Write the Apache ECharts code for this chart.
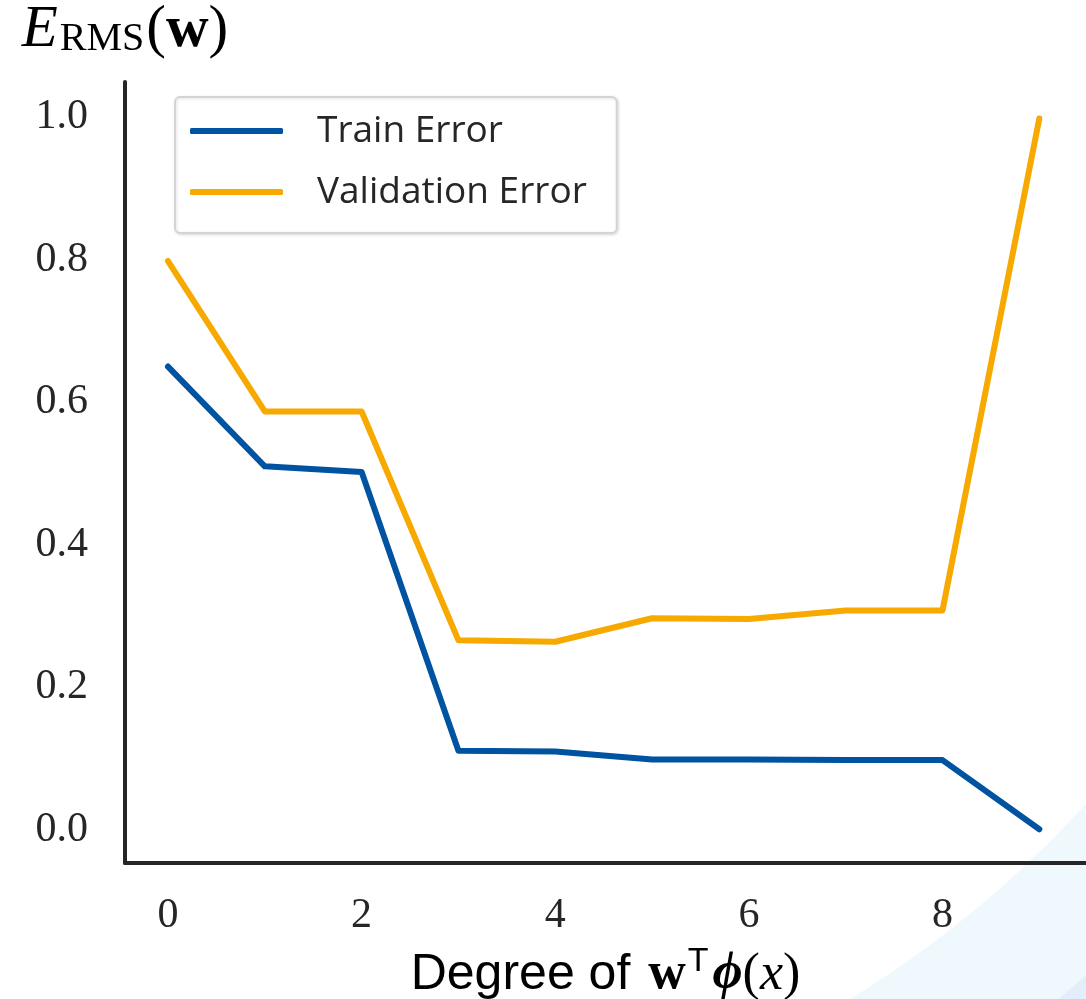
<!DOCTYPE html>
<html>
<head>
<meta charset="utf-8">
<style>
html,body{margin:0;padding:0;background:#fff;}
#chart{width:1086px;height:999px;}
</style>
<script src="https://cdn.jsdelivr.net/npm/echarts@6/dist/echarts.min.js"></script>
</head>
<body>
<div id="chart"></div>
<script>
const degrees = [0, 1, 2, 3, 4, 5, 6, 7, 8, 9];
const trainError = [0.650, 0.510, 0.502, 0.111, 0.110, 0.099, 0.099, 0.098, 0.098, 0.001];
const validationError = [0.798, 0.587, 0.587, 0.266, 0.264, 0.297, 0.296, 0.308, 0.308, 0.998];
const xTickValues = [0, 2, 4, 6, 8];
const yTickValues = [0.0, 0.2, 0.4, 0.6, 0.8, 1.0];
const seriesNames = ['Train Error', 'Validation Error'];

const chart = echarts.init(document.getElementById('chart'), null, {renderer: 'canvas'});
const serif = 'Liberation Serif';
const option = {
  animation: false,
  backgroundColor: '#ffffff',
  graphic: [
    {type: 'ring', z: -10, silent: true, shape: {cx: 280, cy: 70, r: 3000, r0: 1090}, style: {fill: '#eff9fd'}},
    {type: 'ring', z: -9, silent: true, shape: {cx: 280, cy: 70, r: 3000, r0: 1212}, style: {fill: '#e2eef9'}}
  ],
  grid: {left: 125, right: 0, top: 82, bottom: 136, outerBoundsMode: 'none', containLabel: false},
  legend: {
    orient: 'vertical',
    left: 175, top: 97,
    padding: [14, 30, 21, 15],
    itemGap: 21,
    itemWidth: 93, itemHeight: 6,
    icon: 'roundRect',
    borderColor: '#d4d4d4', borderWidth: 2, borderRadius: 5,
    backgroundColor: '#ffffff',
    shadowColor: 'rgba(0,0,0,0.12)', shadowBlur: 3, shadowOffsetX: 1, shadowOffsetY: 1,
    textStyle: {fontFamily: 'Open Sans', fontSize: 37, color: '#262626', padding: [0, 0, 0, 29], lineHeight: 40},
    data: seriesNames
  },
  xAxis: {
    type: 'value',
    min: -0.444, max: 9.482,
    axisLine: {show: true, onZero: false, lineStyle: {color: '#262626', width: 4}},
    axisTick: {show: false},
    splitLine: {show: false},
    axisLabel: {
      customValues: xTickValues,
      fontFamily: serif, fontSize: 42, color: '#262626', margin: 32,
      formatter: v => String(v)
    },
    name: '{a|Degree of }{b|w}{s|T}{c|ϕ}{d|(}{e|x}{d|)}',
    nameLocation: 'middle',
    nameGap: 82,
    nameTextStyle: {
      rich: {
        a: {fontFamily: 'Liberation Sans', fontSize: 50, color: '#000'},
        b: {fontFamily: serif, fontWeight: 'bold', fontSize: 52, color: '#000', padding: [0, 2, 0, 4]},
        s: {fontFamily: 'Liberation Sans', fontSize: 34, color: '#000', padding: [0, 4, 26, 0]},
        c: {fontFamily: serif, fontWeight: 'bold', fontStyle: 'italic', fontSize: 52, color: '#000'},
        d: {fontFamily: serif, fontSize: 52, color: '#000'},
        e: {fontFamily: serif, fontStyle: 'italic', fontSize: 52, color: '#000'}
      }
    }
  },
  yAxis: {
    type: 'value',
    min: -0.0463, max: 1.0491,
    axisLine: {show: true, onZero: false, lineStyle: {color: '#262626', width: 4}},
    axisTick: {show: false},
    splitLine: {show: false},
    axisLabel: {
      customValues: yTickValues,
      fontFamily: serif, fontSize: 42, color: '#262626', margin: 37,
      formatter: v => v.toFixed(1)
    },
    name: '{e|E}{r|RMS}{d|(}{w|w}{d|)}',
    nameLocation: 'end',
    nameGap: 22,
    nameTextStyle: {
      rich: {
        e: {fontFamily: serif, fontStyle: 'italic', fontSize: 59, color: '#000', padding: [0, 2, 0, 0]},
        r: {fontFamily: serif, fontSize: 40, color: '#000', padding: [17, 2, 0, 0]},
        d: {fontFamily: serif, fontSize: 59, color: '#000'},
        w: {fontFamily: serif, fontWeight: 'bold', fontSize: 59, color: '#000'}
      }
    }
  },
  series: [
    {
      name: seriesNames[0], type: 'line', showSymbol: false, symbol: 'none',
      data: degrees.map((d, i) => [d, trainError[i]]),
      lineStyle: {color: '#0053a0', width: 6, cap: 'round', join: 'round'},
      itemStyle: {color: '#0053a0'}
    },
    {
      name: seriesNames[1], type: 'line', showSymbol: false, symbol: 'none',
      data: degrees.map((d, i) => [d, validationError[i]]),
      lineStyle: {color: '#f7a900', width: 6, cap: 'round', join: 'round'},
      itemStyle: {color: '#f7a900'}
    }
  ]
};
chart.setOption(option);
</script>
</body>
</html>
